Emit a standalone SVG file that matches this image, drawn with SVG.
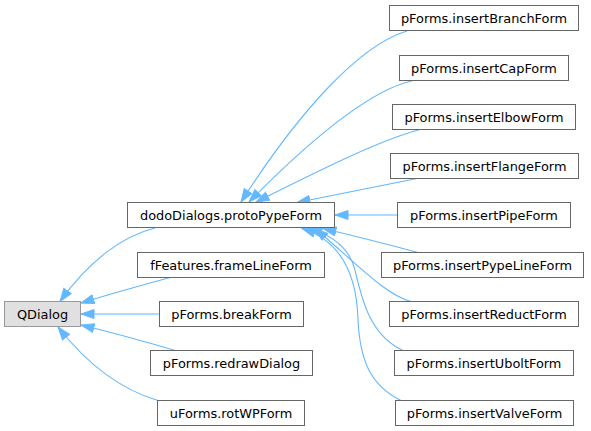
<svg xmlns="http://www.w3.org/2000/svg" width="591" height="431" viewBox="0 0 591 431">
<style>
.n rect{fill:#ffffff;stroke:#666666;stroke-width:1}
.n text{font-family:"DejaVu Sans",sans-serif;font-size:12.9px;fill:#000000;text-anchor:middle}
#QDialog rect{fill:#e0e0e0;stroke:#999999}
.e path{fill:none;stroke:#63b8ff;stroke-width:1.1;marker-end:url(#ah)}
</style>
<defs>
<marker id="ah" markerUnits="userSpaceOnUse" markerWidth="15" markerHeight="11" refX="13.5" refY="5" orient="auto">
<path d="M0.5,0.5 L13.5,5 L0.5,9.5 z" fill="#63b8ff" stroke="#63b8ff" stroke-width="1"/>
</marker>
</defs>
<rect x="0" y="0" width="591" height="431" fill="#ffffff"/>
<g id="edges" class="e">
<path d="M155,228 C122,236 88,262 60,301.5"/>
<path d="M172,277 C150,283 110,294 81,303"/>
<path d="M159.5,314 L81,314"/>
<path d="M177,351 C150,343 110,332 81,325"/>
<path d="M158,400.5 C122,390 88,365 58,327"/>
<path d="M407,31 C360,45 300,110 241,202"/>
<path d="M413,80.5 C370,90 310,140 249,202"/>
<path d="M420,129.5 C380,140 320,170 256,202"/>
<path d="M417,178.5 C380,186 340,194 297,202.5"/>
<path d="M397.5,215 L335,215"/>
<path d="M418,252.5 C390,245 355,236 323,228.5"/>
<path d="M411,301.5 C385,295 355,262 315,228.5"/>
<path d="M403,350.5 C370,335 362,300 355,270 C350,250 335,236 309,228.5"/>
<path d="M401,400.5 C370,385 360,360 358,320 C357,280 345,242 302,228.5"/>
</g>
<g id="QDialog" class="n"><rect x="4.5" y="301.5" width="76" height="25"/><text x="42.5" y="318.5">QDialog</text></g>
<g id="protoPypeForm" class="n"><rect x="127.5" y="202.5" width="207" height="25"/><text x="231" y="219.5">dodoDialogs.protoPypeForm</text></g>
<g id="frameLineForm" class="n"><rect x="137.5" y="252.5" width="187" height="25"/><text x="231" y="269.5">fFeatures.frameLineForm</text></g>
<g id="breakForm" class="n"><rect x="159.5" y="301.5" width="144" height="25"/><text x="231.5" y="318.5">pForms.breakForm</text></g>
<g id="redrawDialog" class="n"><rect x="150.5" y="350.5" width="162" height="25"/><text x="231.5" y="367.5">pForms.redrawDialog</text></g>
<g id="rotWPForm" class="n"><rect x="157.5" y="400.5" width="147" height="25"/><text x="231" y="417.5">uForms.rotWPForm</text></g>
<g id="insertBranchForm" class="n"><rect x="389.5" y="5.5" width="189" height="25"/><text x="484" y="22.5">pForms.insertBranchForm</text></g>
<g id="insertCapForm" class="n"><rect x="399.5" y="55.5" width="169" height="25"/><text x="484" y="72.5">pForms.insertCapForm</text></g>
<g id="insertElbowForm" class="n"><rect x="392.5" y="104.5" width="183" height="25"/><text x="484" y="121.5">pForms.insertElbowForm</text></g>
<g id="insertFlangeForm" class="n"><rect x="390.5" y="153.5" width="188" height="25"/><text x="484.5" y="170.5">pForms.insertFlangeForm</text></g>
<g id="insertPipeForm" class="n"><rect x="397.5" y="202.5" width="173" height="25"/><text x="484" y="219.5">pForms.insertPipeForm</text></g>
<g id="insertPypeLineForm" class="n"><rect x="381.5" y="252.5" width="202" height="25"/><text x="482.5" y="269.5">pForms.insertPypeLineForm</text></g>
<g id="insertReductForm" class="n"><rect x="389.5" y="301.5" width="189" height="25"/><text x="484" y="318.5">pForms.insertReductForm</text></g>
<g id="insertUboltForm" class="n"><rect x="394.5" y="350.5" width="179" height="25"/><text x="484" y="367.5">pForms.insertUboltForm</text></g>
<g id="insertValveForm" class="n"><rect x="395.5" y="400.5" width="178" height="25"/><text x="484.5" y="417.5">pForms.insertValveForm</text></g>
</svg>
